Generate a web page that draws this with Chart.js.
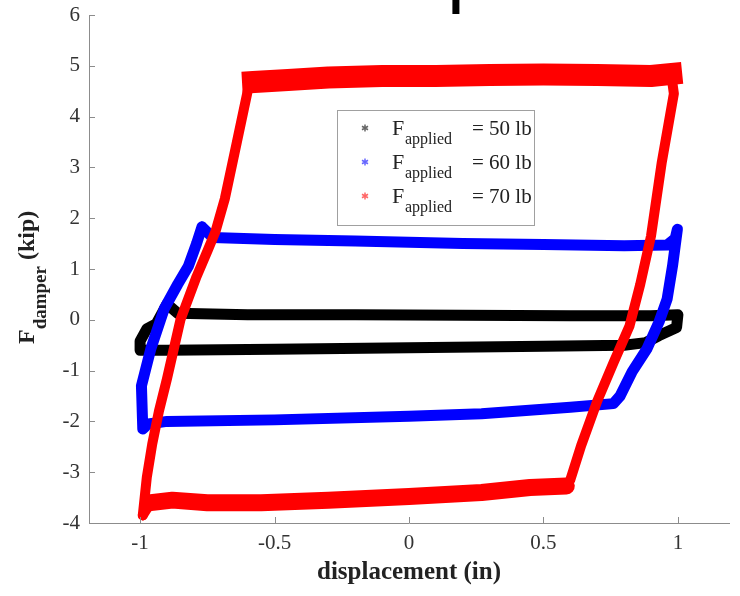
<!DOCTYPE html>
<html>
<head>
<meta charset="utf-8">
<script src="https://cdn.jsdelivr.net/npm/chart.js@4.4.0/dist/chart.umd.min.js"></script>
<style>
  html, body { margin: 0; padding: 0; background: #fff; }
</style>
</head>
<body>
<canvas id="chart" width="740" height="596"></canvas>
<script>
// tick labels
const xTicks = [-1, -0.5, 0, 0.5, 1];
const yTicks = [-4, -3, -2, -1, 0, 1, 2, 3, 4, 5, 6];

// legend entries
const loads = ["50", "60", "70"];

// F_applied = 50 lb loop (displacement in, force kip)
const blackX = [-0.9, -0.86, -0.6, -0.2, 0.2, 0.6, 0.9, 1.0, 0.995, 0.93, 0.88, 0.8, 0.5, 0.0, -0.5, -0.9, -1.0, -1.0, -0.975, -0.94, -0.9];
const blackY = [0.31, 0.13, 0.1, 0.1, 0.09, 0.08, 0.08, 0.1, -0.15, -0.31, -0.45, -0.5, -0.52, -0.55, -0.58, -0.6, -0.6, -0.42, -0.18, -0.08, 0.31];

// F_applied = 60 lb loop
const blueX = [-0.77, -0.73, -0.5, -0.2, 0.2, 0.5, 0.8, 0.96, 0.99, 0.998, 0.98, 0.96, 0.93, 0.885, 0.83, 0.785, 0.76, 0.6, 0.27, 0.0, -0.5, -0.9, -0.97, -0.99, -0.995, -0.96, -0.91, -0.86, -0.82, -0.79, -0.77];
const blueY = [1.83, 1.62, 1.58, 1.55, 1.5, 1.48, 1.46, 1.47, 1.6, 1.78, 1.06, 0.41, -0.04, -0.57, -1.02, -1.5, -1.65, -1.72, -1.85, -1.9, -1.97, -2.0, -2.05, -2.15, -1.3, -0.57, 0.22, 0.7, 1.06, 1.5, 1.83];

// F_applied = 70 lb loop
const redX = [-0.99, -0.975, -0.955, -0.93, -0.90, -0.85, -0.79, -0.75, -0.72, -0.685, -0.64, -0.60, -0.58, -0.45, -0.3, -0.1, 0.1, 0.3, 0.5, 0.7, 0.9, 0.975, 0.985, 0.94, 0.90, 0.86, 0.82, 0.76, 0.70, 0.64, 0.60, 0.585, 0.45, 0.27, 0.0, -0.3, -0.55, -0.75, -0.88, -0.96, -0.99];
const redY = [-3.85, -3.1, -2.45, -1.8, -1.16, 0.0, 0.85, 1.35, 1.73, 2.38, 3.5, 4.5, 4.68, 4.72, 4.77, 4.8, 4.8, 4.82, 4.83, 4.82, 4.8, 4.84, 4.45, 3.1, 1.65, 0.7, -0.12, -0.85, -1.6, -2.48, -3.15, -3.27, -3.3, -3.4, -3.48, -3.55, -3.6, -3.6, -3.55, -3.6, -3.85];

const colors = ["#000000", "#0000ff", "#ff0000"];
const serif = '"Liberation Serif", "Times New Roman", serif';

function toPoints(xs, ys) {
  return xs.map((x, i) => ({ x: x, y: ys[i] }));
}

// red loop: noisy top and bottom bands look thicker
function isTopBand(ctx) {
  return ctx.p0.parsed.y > 4.6 && ctx.p1.parsed.y > 4.6;
}
function redWidth(ctx) {
  const a = ctx.p0.parsed.y, b = ctx.p1.parsed.y;
  if (isTopBand(ctx)) return 22;
  if (a < -3.2 && b < -3.2 && ctx.p0.parsed.x > -0.98 && ctx.p1.parsed.x > -0.98) return 17;
  return 10;
}

const extras = {
  id: "extras",
  afterDraw(chart) {
    const { ctx, chartArea: a, scales: { x, y } } = chart;
    ctx.save();

    // inward tick marks (matlab style)
    ctx.strokeStyle = "#8c8c8c";
    ctx.lineWidth = 1;
    ctx.beginPath();
    yTicks.forEach((v) => {
      const py = Math.round(y.getPixelForValue(v)) + 0.5;
      ctx.moveTo(a.left, py);
      ctx.lineTo(a.left + 6, py);
    });
    xTicks.forEach((v) => {
      const px = Math.round(x.getPixelForValue(v)) + 0.5;
      ctx.moveTo(px, a.bottom);
      ctx.lineTo(px, a.bottom - 6);
    });
    ctx.stroke();

    // y title with subscript
    ctx.save();
    ctx.translate(34, 344);
    ctx.rotate(-Math.PI / 2);
    ctx.fillStyle = "#222";
    ctx.textAlign = "left";
    ctx.textBaseline = "alphabetic";
    ctx.font = "bold 24px " + serif;
    ctx.fillText("F", 0, 0);
    let w = ctx.measureText("F").width;
    ctx.font = "bold 19px " + serif;
    ctx.fillText("damper", w, 12);
    w += ctx.measureText("damper").width;
    ctx.font = "bold 24px " + serif;
    ctx.fillText(" (kip)", w, 0);
    ctx.restore();

    // legend box
    ctx.fillStyle = "#fff";
    ctx.fillRect(337.5, 110.5, 197, 115);
    ctx.strokeStyle = "#a0a0a0";
    ctx.strokeRect(337.5, 110.5, 197, 115);
    loads.forEach((load, i) => {
      const base = 135 + i * 34;
      // small asterisk marker
      ctx.strokeStyle = colors[i];
      ctx.globalAlpha = 0.6;
      ctx.lineWidth = 1.5;
      ctx.beginPath();
      for (let k = 0; k < 3; k++) {
        const ang = (k * Math.PI) / 3 + Math.PI / 2;
        ctx.moveTo(365 - 3.5 * Math.cos(ang), base - 7 - 3.5 * Math.sin(ang));
        ctx.lineTo(365 + 3.5 * Math.cos(ang), base - 7 + 3.5 * Math.sin(ang));
      }
      ctx.stroke();
      ctx.globalAlpha = 1;
      ctx.fillStyle = "#222";
      ctx.textAlign = "left";
      ctx.textBaseline = "alphabetic";
      ctx.font = "22px " + serif;
      ctx.fillText("F", 392, base);
      ctx.font = "16px " + serif;
      ctx.fillText("applied", 405, base + 9);
      ctx.font = "21px " + serif;
      ctx.fillText("= " + load + " lb", 472, base);
    });

    // bit of the title cut off above the figure
    ctx.fillStyle = "#000";
    ctx.font = '80px "Liberation Sans", Arial, sans-serif';
    ctx.fillText("p", 447, -3);

    ctx.restore();
  },
};

new Chart(document.getElementById("chart"), {
  type: "scatter",
  data: {
    datasets: [
      {
        label: "F_applied = 70 lb",
        data: toPoints(redX, redY),
        showLine: true,
        borderColor: colors[2],
        borderWidth: 10,
        segment: {
          borderWidth: redWidth,
          borderCapStyle: (ctx) => (isTopBand(ctx) ? "square" : "round"),
        },
        order: 0,
      },
      {
        label: "F_applied = 60 lb",
        data: toPoints(blueX, blueY),
        showLine: true,
        borderColor: colors[1],
        borderWidth: 11,
        order: 1,
      },
      {
        label: "F_applied = 50 lb",
        data: toPoints(blackX, blackY),
        showLine: true,
        borderColor: colors[0],
        borderWidth: 11,
        order: 2,
      },
    ],
  },
  options: {
    responsive: false,
    animation: false,
    elements: {
      point: { radius: 0, hoverRadius: 0 },
      line: { tension: 0, borderCapStyle: "round", borderJoinStyle: "round" },
    },
    layout: { padding: { top: 15, right: 11, left: 0, bottom: 0 } },
    plugins: {
      legend: { display: false },
      tooltip: { enabled: false },
    },
    scales: {
      x: {
        type: "linear",
        min: -1.19,
        max: 1.19,
        afterBuildTicks: (s) => { s.ticks = xTicks.map((v) => ({ value: v })); },
        afterFit: (s) => { s.height = 73; },
        ticks: {
          color: "#333",
          font: { family: serif, size: 21 },
          padding: 8,
          callback: (v) => String(v),
        },
        grid: { display: false, drawTicks: false },
        border: { display: true, color: "#8c8c8c", width: 1 },
        title: {
          display: true,
          text: "displacement (in)",
          color: "#222",
          font: { family: serif, size: 25, weight: "bold" },
          padding: { top: 0, bottom: 8 },
        },
      },
      y: {
        type: "linear",
        min: -4,
        max: 6,
        afterBuildTicks: (s) => { s.ticks = yTicks.map((v) => ({ value: v })); },
        afterFit: (s) => { s.width = 89; },
        ticks: {
          color: "#333",
          font: { family: serif, size: 21, lineHeight: 0.5 },
          padding: 9,
          callback: (v) => String(v),
        },
        grid: { display: false, drawTicks: false },
        border: { display: true, color: "#8c8c8c", width: 1 },
      },
    },
  },
  plugins: [extras],
});
</script>
</body>
</html>
